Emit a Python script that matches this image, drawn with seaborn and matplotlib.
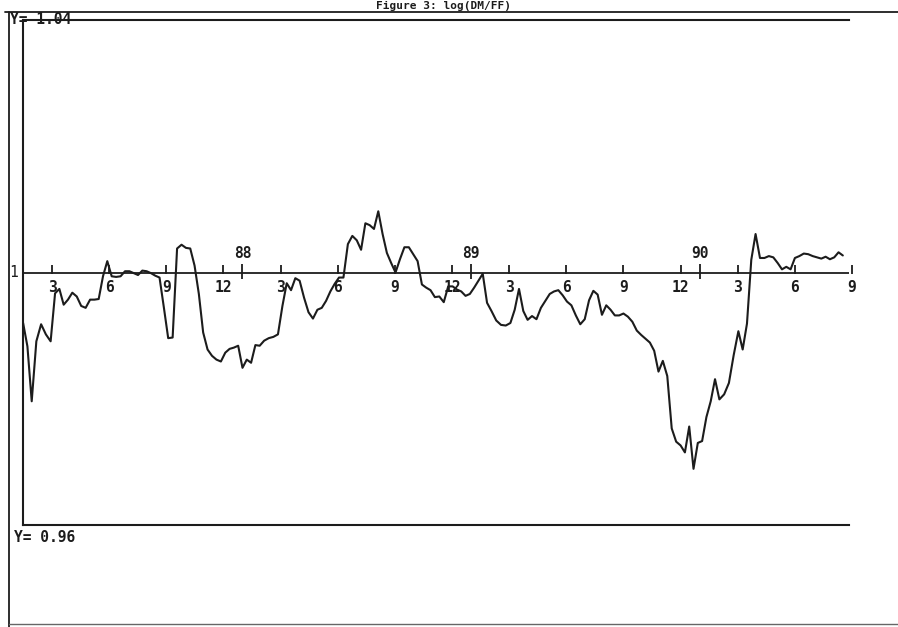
import matplotlib
matplotlib.use("Agg")
import matplotlib.pyplot as plt
from matplotlib.lines import Line2D
import numpy as np
import pandas as pd
import seaborn as sns

# Weekly series, first observation on this date
start_date = "1987-01-16"

ratio = [
    0.9920, 0.9883, 0.9796, 0.9891, 0.9918, 0.9902, 0.9891, 0.9967, 0.9974, 0.9949,
    0.9957, 0.9968, 0.9962, 0.9947, 0.9944, 0.9957, 0.9957, 0.9958, 0.9994, 1.0018,
    0.9994, 0.9993, 0.9994, 1.0002, 1.0002, 0.9999, 0.9996, 1.0003, 1.0002, 0.9999,
    0.9995, 0.9992, 0.9945, 0.9896, 0.9897, 1.0038, 1.0044, 1.0039, 1.0038, 1.0011,
    0.9966, 0.9905, 0.9878, 0.9868, 0.9862, 0.9859, 0.9873, 0.9879, 0.9881, 0.9884,
    0.9849, 0.9862, 0.9857, 0.9885, 0.9884, 0.9892, 0.9896, 0.9898, 0.9902, 0.9947,
    0.9983, 0.9972, 0.9991, 0.9987, 0.9960, 0.9937, 0.9927, 0.9941, 0.9944, 0.9955,
    0.9970, 0.9982, 0.9992, 0.9992, 1.0045, 1.0058, 1.0051, 1.0036, 1.0078, 1.0075,
    1.0069, 1.0097, 1.0061, 1.0031, 1.0015, 1.0000, 1.0021, 1.0040, 1.0040, 1.0029,
    1.0018, 0.9981, 0.9976, 0.9972, 0.9961, 0.9962, 0.9953, 0.9978, 0.9978, 0.9973,
    0.9970, 0.9963, 0.9966, 0.9976, 0.9987, 0.9998, 0.9952, 0.9939, 0.9924, 0.9917,
    0.9916, 0.9920, 0.9941, 0.9974, 0.9939, 0.9925, 0.9931, 0.9926, 0.9944, 0.9955,
    0.9966, 0.9970, 0.9972, 0.9964, 0.9954, 0.9948, 0.9932, 0.9918, 0.9926, 0.9956,
    0.9971, 0.9965, 0.9933, 0.9948, 0.9941, 0.9932, 0.9932, 0.9935, 0.9930, 0.9922,
    0.9908, 0.9901, 0.9895, 0.9889, 0.9876, 0.9843, 0.9860, 0.9836, 0.9753, 0.9732,
    0.9726, 0.9715, 0.9756, 0.9689, 0.9730, 0.9733, 0.9771, 0.9796, 0.9831, 0.9799,
    0.9807, 0.9825, 0.9869, 0.9907, 0.9878, 0.9919, 1.0020, 1.0061, 1.0023, 1.0023,
    1.0026, 1.0024, 1.0015, 1.0005, 1.0009, 1.0005, 1.0023, 1.0026, 1.0030, 1.0029,
    1.0026, 1.0024, 1.0022, 1.0025, 1.0021, 1.0024, 1.0032, 1.0027,
]

base_year = 1987
month_ticks = [3, 6, 9, 12, 15, 18, 21, 24, 27, 30, 33, 36, 39, 42, 45]
month_labels = ["3", "6", "9", "12", "3", "6", "9", "12",
                "3", "6", "9", "12", "3", "6", "9"]
year_ticks = [13, 25, 37]
year_labels = ["88", "89", "90"]
y_min, y_max = 0.96, 1.04
ref_level = 1.0
title = "Figure 3: log(DM/FF)"

# continuous month coordinate: March 1987 -> 3, January 1988 -> 13, ...
dates = pd.date_range(start_date, periods=len(ratio), freq="7D")
month_pos = ((dates.year - base_year) * 12 + dates.month
             + (dates.day - 1) / dates.days_in_month).to_numpy(dtype=float)
df = pd.DataFrame({"month": month_pos, "ratio": ratio})

sns.set_style("white")
plt.rcParams["font.family"] = ["DejaVu Sans Mono", "DejaVu Sans"]
plt.rcParams["font.weight"] = "bold"

W, H = 898, 627
fig = plt.figure(figsize=(W / 100, H / 100), dpi=100)
fig.patch.set_facecolor("white")

left_px, right_px, top_px, bottom_px = 23, 849, 20, 525
ax = fig.add_axes([left_px / W, 1 - bottom_px / H,
                   (right_px - left_px) / W, (bottom_px - top_px) / H])

ink = "#1c1c1c"
sns.lineplot(data=df, x="month", y="ratio", ax=ax, color=ink,
             linewidth=1.5, legend=False)

ax.set_ylim(y_min, y_max)
ax.set_xlim(1.478, 44.84)
ax.set_xticks([])
ax.set_yticks([])
ax.set_xlabel("")
ax.set_ylabel("")
for side in ["left", "top", "bottom"]:
    ax.spines[side].set_visible(True)
    ax.spines[side].set_color(ink)
    ax.spines[side].set_linewidth(1.5)
ax.spines["right"].set_visible(False)

# horizontal reference axis at 1
ax.axhline(ref_level, color=ink, linewidth=1.3)

px = (y_max - y_min) / (bottom_px - top_px)  # data units per pixel
ax.vlines(month_ticks, ref_level - 1.5 * px, ref_level + 8 * px,
          color=ink, linewidth=1.3, clip_on=False)
ax.vlines(year_ticks, ref_level - 6 * px, ref_level + 9 * px,
          color=ink, linewidth=1.3, clip_on=False)

lab_kw = dict(fontsize=10.5, fontweight="bold", color=ink, ha="center",
              textcoords="offset points", annotation_clip=False)
for m, lbl in zip(month_ticks, month_labels):
    ax.annotate(lbl, xy=(m, ref_level), xytext=(0, -5.5), va="top", **lab_kw)
for m, lbl in zip(year_ticks, year_labels):
    ax.annotate(lbl, xy=(m, ref_level), xytext=(0, 8), va="bottom", **lab_kw)

ax.annotate(str(int(ref_level)), xy=(0, ref_level),
            xycoords=("axes fraction", "data"), xytext=(-6.5, 0),
            textcoords="offset points", ha="center", va="center",
            fontsize=10.5, color=ink, fontweight="normal",
            annotation_clip=False)

# range labels at the top and bottom of the frame
fig.text(10 / W, 1 - top_px / H, f"Y= {y_max:.2f}", ha="left", va="center",
         fontsize=10.5, fontweight="bold", color=ink)
fig.text(14 / W, 1 - (bottom_px + 5) / H, f"Y= {y_min:.2f}", ha="left",
         va="top", fontsize=10.5, fontweight="bold", color=ink)

# page border lines
page_top = 12
fig.add_artist(Line2D([9 / W, 9 / W], [0, 1 - page_top / H],
                      transform=fig.transFigure, color=ink, linewidth=1.3))
fig.add_artist(Line2D([5 / W, 1], [1 - page_top / H, 1 - page_top / H],
                      transform=fig.transFigure, color=ink, linewidth=1.3))
fig.add_artist(Line2D([9 / W, 1], [1 - 624 / H, 1 - 624 / H],
                      transform=fig.transFigure, color="#666666", linewidth=1.0))

# title at the top edge of the page
fig.text(443 / W, 1 - 0.5 / H, title, ha="center", va="top",
         fontsize=8, fontweight="bold", color=ink)

fig.savefig("out.png", dpi=100, facecolor="white")
